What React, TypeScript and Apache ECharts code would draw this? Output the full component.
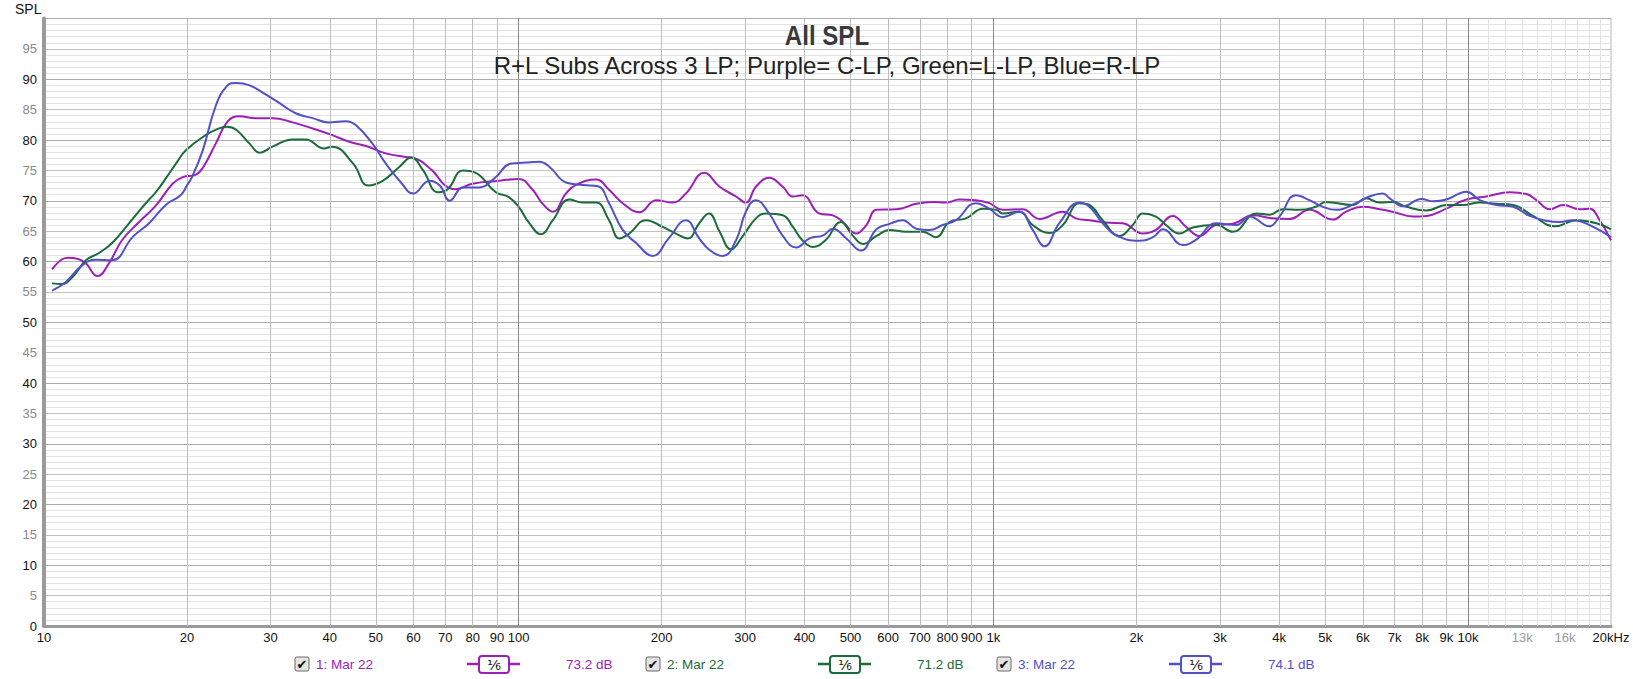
import React, { useEffect, useRef } from 'react';
import * as echarts from 'echarts';

// ---------- data ----------
const purpleFreq = [10.4, 11.2, 11.8, 12.25, 12.96, 13.7, 14.6, 15.86, 17.2, 18.66, 19.6, 20.9, 21.6, 23.0, 24.4, 25.8, 27.9, 30.3, 33.4, 36.8, 40.5, 44.0, 47.7, 52.5, 57.8, 59.7, 65.7, 70.0, 73.6, 79.9, 91, 100, 107, 112, 118, 125.8, 132, 145.6, 155, 165.6, 179.6, 194.7, 211, 225, 246, 265, 287, 301, 316, 337, 360, 378, 396, 430, 459, 482, 514, 540, 567, 625, 688, 745, 795, 847, 918, 980, 1046, 1153, 1250, 1400, 1493, 1593, 1727, 1872, 2064, 2200, 2388, 2547, 2718, 2946, 3195, 3522, 3875, 4203, 4633, 5190, 5533, 6000, 6518, 6928, 7657, 8169, 9000, 9920, 10930, 12240, 13270, 13930, 14870, 15860, 17190, 18040, 18930, 20000];
const purpleDb = [58.7, 60.6, 60.4, 59.7, 57.6, 59.7, 63.5, 66.5, 69.2, 72.8, 73.9, 74.3, 75.4, 79.4, 83.1, 83.9, 83.6, 83.6, 82.9, 81.9, 80.8, 79.7, 79.0, 77.8, 77.2, 77.1, 75.0, 72.5, 71.9, 72.8, 73.3, 73.6, 71.8, 69.6, 68.2, 71.2, 72.6, 73.5, 71.8, 69.6, 68.1, 70.1, 69.7, 71.2, 74.6, 72.3, 70.7, 69.7, 72.3, 73.8, 72.3, 70.7, 70.9, 67.9, 67.6, 66.5, 64.6, 66.0, 68.5, 68.6, 69.5, 69.8, 69.7, 70.2, 70.1, 69.6, 68.5, 68.6, 67.0, 68.2, 67.1, 66.8, 66.4, 66.3, 64.6, 65.2, 67.5, 65.7, 64.2, 66.0, 66.2, 67.6, 67.1, 67.0, 68.5, 66.9, 68.2, 69.0, 68.6, 68.2, 67.4, 67.5, 68.7, 70.2, 70.7, 71.4, 71.1, 70.1, 68.6, 69.3, 68.6, 68.7, 66.8, 63.5];

const greenFreq = [10.4, 10.9, 11.5, 12.25, 13.06, 13.9, 14.9, 15.86, 16.65, 17.2, 18.1, 19.0, 19.9, 21.9, 23.35, 24.3, 25.4, 27.1, 28.5, 30.3, 33.4, 35.6, 38.9, 40.5, 44.8, 48.2, 51.8, 56.1, 59.4, 62.9, 67.6, 70.9, 76.3, 81.2, 89.5, 95.3, 100, 105.3, 111.4, 118, 127.9, 136.4, 145.6, 155, 163, 171, 185.5, 201, 214.5, 227, 240, 251.6, 265, 280, 296, 316, 332, 360, 378, 396, 416, 443, 477, 505, 531, 567, 604, 654, 710, 757, 808, 875, 951, 1014, 1046, 1134, 1210, 1313, 1400, 1518, 1593, 1699, 1843, 1966, 2064, 2200, 2310, 2466, 2630, 2946, 3195, 3580, 3814, 4064, 4406, 4777, 5020, 5713, 6094, 6508, 6944, 7413, 8169, 9000, 9750, 10580, 11470, 12440, 13700, 15240, 16920, 18640, 20000];
const greenDb = [56.4, 56.3, 57.5, 60.2, 61.4, 63.0, 65.7, 68.3, 70.2, 71.4, 73.8, 76.2, 78.3, 80.8, 81.9, 82.2, 81.7, 79.4, 77.9, 78.9, 80.1, 80.1, 78.6, 78.9, 76.1, 72.5, 73.3, 75.6, 77.1, 75.0, 71.4, 71.9, 75.0, 74.6, 71.4, 70.6, 69.0, 66.3, 64.5, 66.8, 70.2, 69.7, 69.7, 66.8, 63.8, 64.6, 66.8, 65.7, 64.6, 63.8, 66.3, 67.9, 64.9, 62.0, 64.1, 67.1, 67.9, 67.6, 65.7, 63.5, 62.4, 63.5, 66.5, 64.3, 62.9, 64.2, 65.2, 64.9, 64.9, 64.0, 66.5, 67.1, 68.7, 68.5, 67.9, 68.2, 66.0, 64.7, 66.0, 69.6, 69.3, 66.8, 64.2, 66.0, 67.9, 67.4, 66.0, 64.6, 65.6, 66.0, 64.9, 67.9, 67.7, 68.6, 68.5, 69.0, 69.8, 69.3, 70.4, 69.7, 69.8, 69.0, 68.4, 69.3, 69.3, 69.7, 69.5, 69.3, 67.5, 65.8, 66.8, 66.3, 65.3];

const blueFreq = [10.4, 11.1, 12.05, 12.85, 13.9, 15.4, 16.65, 18.1, 19.4, 20.0, 20.5, 21.6, 23.0, 24.3, 25.4, 27.1, 29.3, 31.3, 33.9, 36.8, 39.8, 43.2, 45.3, 49.2, 52.5, 56.1, 60, 64.9, 68.2, 71.6, 76.3, 82.5, 89.5, 95.3, 100, 103.6, 110.5, 116, 125.8, 136.4, 146.8, 155, 165.6, 177, 191.4, 207, 225, 240, 252.4, 269, 287, 301, 316, 337, 360, 384, 410, 438, 459, 490, 526, 567, 604, 644, 688, 733, 782, 834, 918, 980, 1046, 1134, 1210, 1281, 1377, 1518, 1593, 1699, 1813, 2030, 2167, 2277, 2505, 2675, 2946, 3250, 3463, 3814, 4004, 4341, 4633, 4946, 5272, 5808, 6194, 6613, 6839, 7296, 7973, 8436, 9000, 9920, 10580, 11470, 12440, 13490, 14620, 15600, 16650, 18350, 20000];
const blueDb = [55.2, 56.6, 59.4, 60.3, 60.2, 64.1, 66.3, 69.4, 70.9, 72.5, 73.9, 78.3, 85.6, 88.9, 89.4, 89.0, 87.5, 86.1, 84.4, 83.6, 82.9, 83.1, 82.5, 79.4, 76.1, 73.3, 71.2, 73.3, 72.5, 70.0, 72.2, 72.2, 73.9, 76.0, 76.2, 76.3, 76.4, 75.6, 73.0, 72.6, 72.4, 69.6, 65.2, 63.0, 60.9, 63.8, 66.8, 63.8, 61.9, 60.9, 63.5, 68.2, 70.1, 67.9, 64.2, 62.3, 63.8, 64.3, 65.4, 63.8, 61.8, 65.3, 66.2, 66.8, 65.4, 65.2, 66.0, 66.8, 69.6, 68.7, 67.3, 68.2, 65.2, 62.5, 66.3, 69.7, 69.0, 66.3, 64.3, 63.4, 64.0, 65.3, 62.7, 63.6, 66.3, 66.0, 67.4, 65.8, 67.4, 70.9, 70.1, 69.0, 68.5, 69.6, 70.7, 71.2, 70.4, 69.1, 70.3, 69.9, 70.2, 71.5, 70.1, 69.3, 69.0, 67.5, 66.7, 66.5, 66.8, 65.7, 64.0];

const seriesNames = ['1: Mar 22', '2: Mar 22', '3: Mar 22'];
const seriesLevels = ['73.2 dB', '71.2 dB', '74.1 dB'];
const seriesColors = ['#9C20B8', '#1B6B3B', '#5151C6'];

const xTickFreqs = [10, 20, 30, 40, 50, 60, 70, 80, 90, 100, 200, 300, 400, 500, 600, 700, 800, 900, 1000, 2000, 3000, 4000, 5000, 6000, 7000, 8000, 9000, 10000, 13000, 16000, 20000];
const xTickLabels = ['10', '20', '30', '40', '50', '60', '70', '80', '90', '100', '200', '300', '400', '500', '600', '700', '800', '900', '1k', '2k', '3k', '4k', '5k', '6k', '7k', '8k', '9k', '10k', '13k', '16k', '20kHz'];
const mutedTickLabels = ['13k', '16k'];

const gridFreqs = [20, 30, 40, 50, 60, 70, 80, 90, 200, 300, 400, 500, 600, 700, 800, 900, 2000, 3000, 4000, 5000, 6000, 7000, 8000, 9000];
const decadeFreqs = [100, 1000, 10000];
const fineFreqs = [11000, 12000, 13000, 14000, 15000, 16000, 17000, 18000, 19000];

const TITLE = 'All SPL';
const SUBTITLE = 'R+L Subs Across 3 LP; Purple= C-LP, Green=L-LP, Blue=R-LP';

const FONT = '"Liberation Sans", Arial, sans-serif';

function zip(f: number[], d: number[]) {
  return f.map((v, i) => [v, d[i]]);
}

export default function App() {
  const ref = useRef<HTMLDivElement>(null);
  useEffect(() => {
    if (!ref.current) return;
    const chart = echarts.init(ref.current, undefined, { renderer: 'svg' });

    const vLines: any[] = [
      ...fineFreqs.map((f) => ({ xAxis: f, lineStyle: { color: '#e2e2e2', width: 1, type: 'solid' } })),
      ...gridFreqs.map((f) => ({ xAxis: f, lineStyle: { color: '#bdbdbd', width: 1, type: 'solid' } })),
      ...decadeFreqs.map((f) => ({ xAxis: f, lineStyle: { color: '#888888', width: 1, type: 'solid' } })),
      ...xTickFreqs.map((f, i) => ({
        xAxis: f,
        lineStyle: { color: 'rgba(255,255,255,0)', width: 1, type: 'solid' },
        label: {
          show: true,
          position: 'start',
          distance: 5,
          formatter: xTickLabels[i],
          fontFamily: FONT,
          fontSize: 13,
          color: mutedTickLabels.includes(xTickLabels[i]) ? '#9a9a9a' : '#111',
        },
      })),
    ];

    const legendGraphics: any[] = [];
    const legendX = [295, 646, 997];
    const ly = 664;
    seriesNames.forEach((name, i) => {
      const x = legendX[i];
      const c = seriesColors[i];
      legendGraphics.push(
        {
          type: 'rect',
          shape: { x: x, y: ly - 7, width: 14, height: 14, r: 2 },
          style: { fill: '#e4e4e4', stroke: '#6a6a6a', lineWidth: 1 },
          z: 100,
        },
        {
          type: 'text',
          x: x + 7,
          y: ly,
          style: { text: '✔', fontFamily: 'DejaVu Sans', fontSize: 13, fill: '#111', align: 'center', verticalAlign: 'middle' },
          z: 101,
        },
        {
          type: 'text',
          x: x + 21,
          y: ly,
          style: { text: name, fontFamily: FONT, fontSize: 13.5, fill: c, verticalAlign: 'middle' },
          z: 100,
        },
        {
          type: 'line',
          shape: { x1: x + 172, y1: ly, x2: x + 225, y2: ly },
          style: { stroke: c, lineWidth: 2.5 },
          z: 100,
        },
        {
          type: 'rect',
          shape: { x: x + 184, y: ly - 8, width: 30, height: 17, r: 3 },
          style: { fill: '#fff', stroke: c, lineWidth: 2 },
          z: 101,
        },
        {
          type: 'text',
          x: x + 199,
          y: ly + 1,
          style: { text: '¹⁄₆', fontFamily: 'DejaVu Sans', fontSize: 14, fill: '#111', align: 'center', verticalAlign: 'middle' },
          z: 102,
        },
        {
          type: 'text',
          x: x + 271,
          y: ly,
          style: { text: seriesLevels[i], fontFamily: FONT, fontSize: 13.5, fill: c, verticalAlign: 'middle' },
          z: 100,
        }
      );
    });

    const option: any = {
      animation: false,
      backgroundColor: '#ffffff',
      title: [
        {
          text: SUBTITLE,
          left: 827,
          top: 53,
          padding: 0,
          textAlign: 'center',
          textVerticalAlign: 'top',
          textStyle: { fontFamily: FONT, fontSize: 24, fontWeight: 'normal', color: '#222' },
        },
      ],
      grid: {
        left: 44,
        right: 22,
        top: 18.5,
        bottom: 53,
        show: true,
        borderColor: '#b4b4b4',
        borderWidth: 1,
        backgroundColor: '#fff',
      },
      xAxis: {
        type: 'log',
        logBase: 10,
        min: 10,
        max: 20000,
        axisLine: { show: true, onZero: false, lineStyle: { color: '#9a9a9a', width: 3 } },
        axisTick: { show: false },
        axisLabel: { show: false },
        splitLine: { show: false },
      },
      yAxis: {
        type: 'value',
        min: 0,
        max: 100,
        interval: 5,
        axisLine: { show: true, lineStyle: { color: '#9a9a9a', width: 4 } },
        axisTick: { show: false },
        axisLabel: {
          margin: 7,
          fontFamily: FONT,
          fontSize: 13,
          formatter: (v: number) => (v === 100 ? '' : String(v)),
          color: (v: any) => (Number(v) % 10 === 0 ? '#111' : '#8a8a8a'),
        },
        splitLine: { show: true, lineStyle: { color: ['#ababab', '#c2c2c2'], width: 1 } },
        minorTick: { show: false, splitNumber: 5 },
        minorSplitLine: { show: true, lineStyle: { color: '#e3e3e3', width: 1 } },
      },
      graphic: [
        {
          type: 'text',
          x: 15,
          y: 2,
          style: { text: 'SPL', fontFamily: FONT, fontSize: 14, fill: '#111' },
        },
        {
          type: 'text',
          x: 827,
          y: 35,
          scaleX: 0.86,
          z: 50,
          style: {
            text: TITLE,
            fontFamily: FONT,
            fontSize: 28,
            fontWeight: 'bold',
            fill: '#3a3a3a',
            align: 'center',
            verticalAlign: 'middle',
          },
        },
        ...legendGraphics,
      ],
      series: [
        {
          type: 'line',
          name: 'grid',
          data: [],
          silent: true,
          z: 1,
          markLine: {
            silent: true,
            symbol: ['none', 'none'],
            animation: false,
            label: { show: false },
            data: vLines,
          },
        },
        ...[
          [purpleFreq, purpleDb],
          [greenFreq, greenDb],
          [blueFreq, blueDb],
        ].map(([f, d], i) => ({
          type: 'line',
          name: seriesNames[i],
          data: zip(f as number[], d as number[]),
          showSymbol: false,
          smooth: 0.45,
          z: 3 + i,
          lineStyle: { color: seriesColors[i], width: 2 },
          itemStyle: { color: seriesColors[i] },
        })),
      ],
    };

    chart.setOption(option);
    return () => chart.dispose();
  }, []);

  return (
    <div
      ref={ref}
      style={{ position: 'fixed', left: 0, top: 0, width: 1633, height: 679, background: '#fff' }}
    />
  );
}
